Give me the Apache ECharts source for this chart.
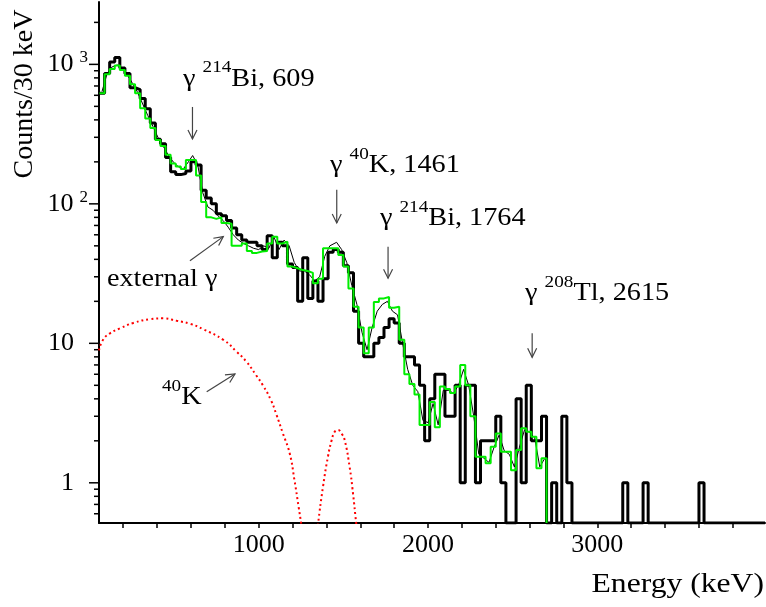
<!DOCTYPE html>
<html>
<head>
<meta charset="UTF-8" />
<title>Counts spectrum</title>
<style>
  html, body { margin: 0; padding: 0; background: #ffffff; }
  #chart { width: 766px; height: 607px; }
</style>
</head>
<body>
<div id="chart"></div>
<script src="https://cdn.jsdelivr.net/npm/echarts@6/dist/echarts.min.js"></script>
<script>
// binning of the histograms (keV)
const binStart = 60;
const binWidth = 30;

// measured spectrum, counts per 30 keV bin from 60 keV
const dataCounts = [
  620, 860, 1040, 1120, 940, 860, 680, 660, 570, 480,
  380, 290, 270, 215, 170, 162, 165, 172, 200, 190,
  125, 110, 100, 85, 82, 76, 67, 60, 55, 53,
  53, 50, 47, 59, 41, 53, 50, 37, 35, 20,
  41, 21, 28, 20, 29, 45, 47, 45, 36, 32,
  17, 10, 8, 8, 10, 11, 13, 15, 14, 10,
  8, 8, 7, 5, 2, 4, 6, 6, 3, 3,
  5, 1, 5, 5, 1, 2, 2, 2, 3, 1,
  0, 0, 4, 1, 5, 2, 2, 3, 0, 1,
  0, 3, 1, 0, 0, 0, 0, 0, 0, 0,
  0, 0, 0, 1, 0, 0, 0, 1, 0, 0,
  0, 0, 0, 0, 0, 0, 0, 0, 1, 0,
  0, 0, 0, 0, 0, 0, 0, 0, 0, 0, 0
];

// fitted spectrum (green), same binning, ends at 2700 keV
const fitCounts = [
  621, 850, 925, 980, 910, 830, 720, 620, 484, 410,
  350, 287, 260, 225, 195, 185, 178, 206, 206, 160,
  103, 80, 78, 80, 73, 72, 50, 50, 52, 46,
  44.5, 45.5, 46, 52, 58, 52, 53.5, 35.5, 34.5, 33.5,
  33, 32, 27, 29, 48, 48, 48, 43, 35.5, 24.7,
  18.3, 13, 8.5, 13, 19.8, 21, 21.5, 18, 18.3, 10.6,
  6, 5.1, 4.3, 2.6, 2.6, 3.8, 2.5, 4.9, 4.7, 4.4,
  4.9, 7, 5, 3, 1.54, 1.54, 1.38, 1.81, 2.26, 1.67,
  1.67, 1.23, 1.72, 2.46, 2.32, 2.14, 1.27, 1.5
];

// thin model curve [keV, counts]
const modelCurve = [
  [75, 640], [105, 860], [135, 960], [165, 990], [195, 930], [225, 840],
  [255, 730], [285, 630], [315, 520], [345, 430], [375, 360], [405, 300],
  [435, 260], [465, 225], [495, 200], [525, 185], [555, 178], [585, 200],
  [610, 222], [640, 190], [670, 120], [700, 95], [730, 90], [760, 82],
  [790, 76], [820, 68], [850, 60], [880, 55], [910, 52], [940, 50],
  [970, 48], [1000, 47], [1030, 50], [1060, 48], [1090, 58], [1120, 47],
  [1150, 55], [1180, 50], [1210, 38], [1240, 33], [1270, 33], [1300, 31],
  [1330, 28], [1360, 30], [1390, 42], [1420, 50], [1460, 53], [1490, 47],
  [1520, 38], [1550, 26], [1580, 19], [1610, 12], [1640, 9], [1670, 13],
  [1700, 17], [1730, 19], [1760, 20], [1790, 17], [1820, 16], [1850, 10],
  [1880, 6.5], [1910, 5], [1940, 4.5], [1970, 2.8], [2000, 2.7], [2030, 3.7],
  [2060, 2.6], [2090, 4.6], [2120, 4.6], [2150, 4.4], [2180, 5], [2210, 6.5],
  [2240, 5], [2270, 3], [2300, 1.6], [2330, 1.5], [2360, 1.4], [2390, 1.8],
  [2420, 2.2], [2450, 1.7], [2480, 1.6], [2510, 1.3], [2540, 1.8], [2570, 2.4],
  [2600, 2.3], [2630, 2.1], [2660, 1.3], [2690, 1.5]
];

// 40K contribution (red dotted) [keV, counts]
const k40Curve = [
  [57, 8.9], [81, 10.6], [122, 11.8], [181, 12.8], [260, 14.0], [359, 14.9],
  [437, 15.1], [516, 14.5], [596, 13.8], [674, 12.6], [791, 10.6], [870, 8.7],
  [927, 7.4], [985, 5.9], [1025, 5.0], [1073, 3.9], [1104, 3.1], [1143, 2.26],
  [1183, 1.63], [1211, 1.05], [1236, 0.67], [1252, 0.5], [1270, 0.35], [1300, 0.2],
  [1330, 0.3], [1350, 0.5], [1380, 0.94], [1409, 1.54], [1430, 2.0], [1449, 2.32],
  [1468, 2.39], [1490, 2.25], [1508, 2.02], [1537, 1.30], [1557, 0.84], [1577, 0.5],
  [1600, 0.3]
];

// axes
const xMin = 57, xMax = 3990;
const yMin = 0.515, yMax = 2800;
const xTickValues = [200, 400, 600, 800, 1000, 1200, 1400, 1600, 1800, 2000,
  2200, 2400, 2600, 2800, 3000, 3200, 3400, 3600, 3800];
const xLabelValues = [1000, 2000, 3000];
const yMajorTicks = [1, 10, 100, 1000];
const yMinorTicks = [0.6, 0.7, 0.8, 0.9, 2, 3, 4, 5, 6, 7, 8, 9,
  20, 30, 40, 50, 60, 70, 80, 90, 200, 300, 400, 500, 600, 700, 800, 900, 2000];

// peak labels: text, anchor [keV, counts] (left / middle)
const peakLabels = [
  { text: 'γ {s|214}Bi, 609', at: [553, 779] },
  { text: 'γ {s|40}K, 1461', at: [1421, 187] },
  { text: 'γ {s|214}Bi, 1764', at: [1716, 78] },
  { text: 'γ {s|208}Tl, 2615', at: [2573, 22.6] },
  { text: 'external γ', at: [104, 28.5] },
  { text: '{s|40}K', at: [429, 4.06] }
];
// arrows: [from, to] in [keV, counts]
const arrows = [
  [[609, 495], [609, 292]],
  [[1461, 126], [1461, 73]],
  [[1764, 49.3], [1764, 29.3]],
  [[2615, 11.8], [2615, 7.94]],
  [[594, 39.1], [791, 58.2]],
  [[693, 4.5], [860, 6.03]]
];

const serif = 'Liberation Serif';

// histogram -> step line points at the bin edges
function histPoints(counts) {
  const pts = counts.map((c, i) => [binStart + i * binWidth, c > 0 ? c : yMin]);
  pts.push([binStart + counts.length * binWidth, yMin]);
  return pts;
}

const yTickData = yMajorTicks.concat(yMinorTicks).map(v => [xMin, v]);

const chart = echarts.init(document.getElementById('chart'));

chart.setOption({
  animation: false,
  grid: { left: 99, right: 1, top: 2, bottom: 84 },
  xAxis: {
    type: 'value',
    min: xMin,
    max: xMax,
    splitLine: { show: false },
    axisLine: { lineStyle: { color: '#000', width: 2 } },
    axisTick: { customValues: xTickValues, length: 5, lineStyle: { color: '#000', width: 1.5 } },
    axisLabel: {
      customValues: xLabelValues,
      formatter: v => String(v),
      color: '#000', fontFamily: serif, fontSize: 26, margin: 9
    }
  },
  yAxis: {
    type: 'log',
    logBase: 10,
    min: yMin,
    max: yMax,
    splitLine: { show: false },
    axisLine: { lineStyle: { color: '#000', width: 2 } },
    axisTick: { show: false },
    axisLabel: {
      color: '#000', fontFamily: serif, fontSize: 26, lineHeight: 30, margin: 11,
      formatter: function (v) {
        const p = Math.log10(v);
        const r = Math.round(p);
        if (Math.abs(p - r) > 1e-6) return '';
        if (r === 0) return '1{p| }';
        if (r === 1) return '10{p| }';
        return '10{s|' + r + '}';
      },
      rich: {
        s: { fontFamily: serif, fontSize: 17, lineHeight: 17, verticalAlign: 'top', padding: [0, 0, 0, 6], color: '#000' },
        p: { width: 14 }
      }
    }
  },
  series: [
    {
      name: 'data',
      type: 'line',
      step: 'end',
      symbol: 'none',
      clip: true,
      data: histPoints(dataCounts),
      lineStyle: { color: '#000', width: 3 },
      z: 2
    },
    {
      name: 'model',
      type: 'line',
      symbol: 'none',
      clip: true,
      data: modelCurve,
      lineStyle: { color: '#000', width: 1 },
      z: 3
    },
    {
      name: 'fit',
      type: 'line',
      step: 'end',
      symbol: 'none',
      clip: true,
      data: histPoints(fitCounts),
      lineStyle: { color: '#00ee00', width: 2 },
      z: 4
    },
    {
      name: '40K',
      type: 'line',
      symbol: 'none',
      smooth: true,
      clip: true,
      data: k40Curve,
      lineStyle: { color: '#ff0000', width: 2, type: [2, 3] },
      z: 4
    },
    {
      // log axis ticks, drawn outside the axis
      name: 'yticks',
      type: 'custom',
      coordinateSystem: 'cartesian2d',
      silent: true,
      data: yTickData,
      renderItem: function (params, api) {
        const v = api.value(1);
        const p = api.coord([api.value(0), v]);
        const major = Math.abs(Math.log10(v) - Math.round(Math.log10(v))) < 1e-6;
        const len = major ? 10 : 5;
        return {
          type: 'line',
          shape: { x1: p[0] - len, y1: p[1], x2: p[0] - 1, y2: p[1] },
          style: { stroke: '#000', lineWidth: 1.5 }
        };
      }
    }
  ]
});

// annotations placed through the axes
const px = (pt) => chart.convertToPixel({ gridIndex: 0 }, pt);

function arrowShape(a, b) {
  const p0 = px(a), p1 = px(b);
  const dx = p1[0] - p0[0], dy = p1[1] - p0[1];
  const len = Math.hypot(dx, dy);
  const ux = dx / len, uy = dy / len;
  const hl = 9, hw = 4.5;
  const bx = p1[0] - ux * hl, by = p1[1] - uy * hl;
  const st = { stroke: '#444', lineWidth: 1.2, fill: null };
  return [
    { type: 'line', shape: { x1: p0[0], y1: p0[1], x2: p1[0], y2: p1[1] }, style: st },
    { type: 'polyline', shape: { points: [[bx - uy * hw, by + ux * hw], [p1[0], p1[1]], [bx + uy * hw, by - ux * hw]] }, style: st }
  ];
}

const graphics = [];
peakLabels.forEach(l => {
  const p = px(l.at);
  graphics.push({
    type: 'text', x: p[0], y: p[1], scaleX: 1.13, silent: true,
    style: {
      text: l.text, fill: '#000', fontFamily: serif, fontSize: 25, lineHeight: 40,
      align: 'left', verticalAlign: 'middle',
      rich: { s: { fontFamily: serif, fontSize: 17, lineHeight: 17, verticalAlign: 'top', fill: '#000' } }
    }
  });
});
arrows.forEach(a => { arrowShape(a[0], a[1]).forEach(g => graphics.push(g)); });

// axis titles
graphics.push({
  type: 'text', x: 25, y: 94, rotation: Math.PI / 2, silent: true,
  style: { text: 'Counts/30 keV', fill: '#000', fontFamily: serif, fontSize: 28, align: 'center', verticalAlign: 'middle' }
});
graphics.push({
  type: 'text', x: 764, y: 585, scaleX: 1.13, silent: true,
  style: { text: 'Energy (keV)', fill: '#000', fontFamily: serif, fontSize: 28, align: 'right', verticalAlign: 'middle' }
});

chart.setOption({ graphic: graphics });
</script>
</body>
</html>
